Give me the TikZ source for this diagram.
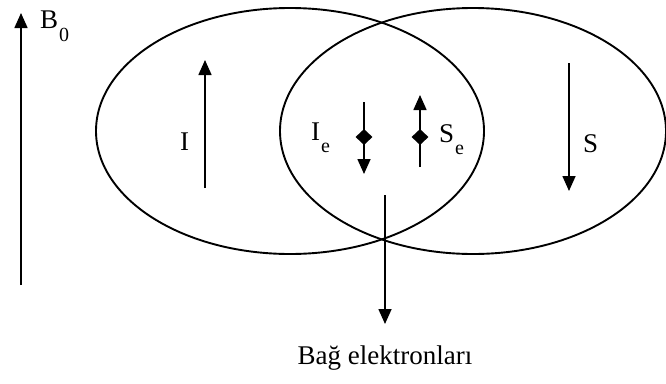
\documentclass[tikz,border=0pt]{standalone}
\usepackage{fontspec}
\setmainfont{Liberation Serif}
\usetikzlibrary{arrows.meta,shapes.geometric}
\begin{document}
\begin{tikzpicture}[x=1pt,y=-1pt,
  ring/.style={draw=black,line width=1.9pt},
  vec/.style={line width=1.6pt,-{Triangle[length=15pt,width=13pt]}},
  lbl/.style={inner sep=0pt,font=\fontsize{27}{30}\selectfont,anchor=base west},
  dot/.style={diamond,fill=black,inner sep=0pt,minimum width=17pt,minimum height=16pt}]
\useasboundingbox (0,0) rectangle (666,383);
% ellipses
\node[ring,ellipse,minimum width=388pt,minimum height=246pt] (left) at (290,131) {};
\node[ring,ellipse,minimum width=386pt,minimum height=246pt] (right) at (473,131) {};
% B0
\coordinate (b0s) at (21,285);
\coordinate (b0e) at (21,13);
\draw[vec] (b0s) -- (b0e);
\node[lbl] (B0) at (40,28) {B\kern1pt\raisebox{-1.1ex}{\fontsize{20}{20}\selectfont 0}};
% I
\coordinate (is) at (205,188);
\coordinate (ie) at (205,60);
\draw[vec] (is) -- (ie);
\node[lbl] (Ilab) at (180,150) {I};
% S
\coordinate (ss) at (569,63);
\coordinate (se) at (569,191);
\draw[vec] (ss) -- (se);
\node[lbl] (Slab) at (583,152) {S};
% center
\coordinate (cs) at (385,195);
\coordinate (ce) at (385,324);
\draw[vec] (cs) -- (ce);
% Ie
\coordinate (ies) at (364,102);
\coordinate (iee) at (364,174);
\draw[vec] (ies) -- (iee);
\node[dot] (iedot) at (364,137) {};
\node[lbl] (Ielab) at (311,140) {I\kern1pt\raisebox{-1ex}{\fontsize{20}{20}\selectfont e}};
% Se
\coordinate (ses) at (420,167);
\coordinate (see) at (420,95);
\draw[vec] (ses) -- (see);
\node[dot] (sedot) at (420,137) {};
\node[lbl] (Selab) at (439,142) {S\kern1pt\raisebox{-1ex}{\fontsize{20}{20}\selectfont e}};
% caption
\node[inner sep=0pt,font=\fontsize{27}{30}\selectfont,anchor=base] (cap) at (385,364) {Bağ elektronları};
\end{tikzpicture}
\end{document}
